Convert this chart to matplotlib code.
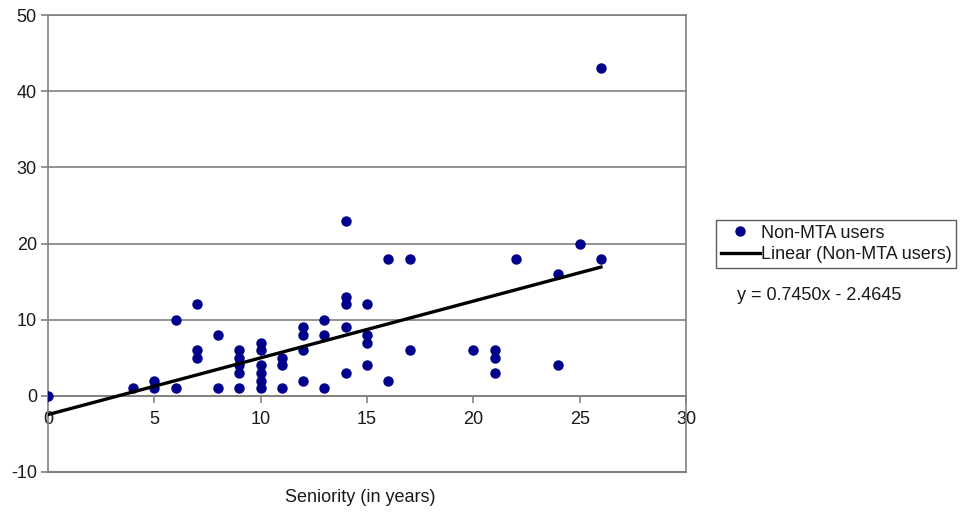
import numpy as np
import matplotlib.pyplot as plt

plt.rcParams['font.family'] = ['Liberation Sans', 'DejaVu Sans']
plt.rcParams['axes.unicode_minus'] = False

# Non-MTA users: seniority (years) vs value
seniority = [0, 4, 5, 5, 6, 6, 7, 7, 7, 8, 8,
             9, 9, 9, 9, 9, 10, 10, 10, 10, 10, 10,
             11, 11, 11, 12, 12, 12, 12, 13, 13, 13,
             14, 14, 14, 14, 14, 15, 15, 15, 15,
             16, 16, 17, 17, 20, 21, 21, 21, 22, 24, 24, 25, 26, 26]
values = [0, 1, 2, 1, 10, 1, 12, 6, 5, 8, 1,
          6, 5, 4, 3, 1, 7, 6, 4, 3, 2, 1,
          5, 4, 1, 9, 8, 6, 2, 10, 8, 1,
          23, 13, 12, 9, 3, 12, 8, 7, 4,
          18, 2, 18, 6, 6, 6, 5, 3, 18, 16, 4, 20, 43, 18]

# trend line coefficients (as printed on the chart)
slope = 0.7450
intercept = -2.4645

x_ticks = [0, 5, 10, 15, 20, 25, 30]
y_ticks = [-10, 0, 10, 20, 30, 40, 50]

fig = plt.figure(figsize=(9.63, 5.13), dpi=100)
ax = fig.add_axes([48 / 963, 1 - 472 / 513, (686 - 48) / 963, (472 - 15) / 513])

grey = '#808080'
txt = '#1a1a1a'
ax.set_xlim(0, 30)
ax.set_ylim(-10, 50)
ax.set_yticks(y_ticks)
ax.set_xticks(x_ticks)
ax.yaxis.grid(True, color=grey, linewidth=1.2)
ax.set_axisbelow(True)

for side in ['top', 'right', 'left', 'bottom']:
    ax.spines[side].set_color(grey)
    ax.spines[side].set_linewidth(1.2)
ax.spines['bottom'].set_position(('data', 0))

# close the frame at the bottom (y = -10)
ax.axhline(-10, color=grey, linewidth=1.5, clip_on=False)

ax.tick_params(axis='both', direction='out', color=grey, length=5, width=1.2,
               labelsize=13, labelcolor=txt)
ax.tick_params(axis='x', pad=6)
ax.tick_params(axis='y', pad=3)

ax.plot(seniority, values, 'o', color='#00008B', markersize=6.5,
        label='Non-MTA users', zorder=3)

xt = np.array([0, max(seniority)])
ax.plot(xt, slope * xt + intercept, color='black', linewidth=2.4,
        label='Linear (Non-MTA users)', zorder=4)

fig.text(360 / 963, 1 - 497 / 513, 'Seniority (in years)',
         ha='center', va='center', fontsize=13, color=txt)

leg = fig.legend(loc='upper left', bbox_to_anchor=(716 / 963, 1 - 220 / 513),
                 fontsize=13, frameon=True, fancybox=False, edgecolor='#333333',
                 handlelength=2.2, handletextpad=0.05, borderpad=0.25,
                 labelspacing=0.25, borderaxespad=0)
leg.get_frame().set_linewidth(1.0)
for t in leg.get_texts():
    t.set_color(txt)

fig.text(819 / 963, 1 - 295 / 513,
         f'y = {slope:.4f}x - {abs(intercept):.4f}',
         ha='center', va='center', fontsize=13, color=txt)

fig.savefig('out.png', dpi=100)
